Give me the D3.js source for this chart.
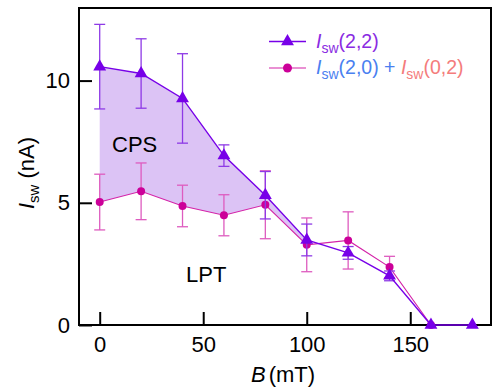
<!DOCTYPE html>
<html><head><meta charset="utf-8">
<script src="https://cdn.jsdelivr.net/npm/d3@7"></script>
<style>body{margin:0;background:#fff}svg{display:block;font-family:"Liberation Sans",Arial,Helvetica,sans-serif}</style>
</head><body>
<svg id="c" width="493" height="387"></svg>
<script>
// Data
const fieldB = [0, 20, 40, 60, 80, 100, 120, 140, 160, 180];
const isw22 = [10.57, 10.29, 9.27, 6.93, 5.31, 3.48, 2.95, 2.01, 0, 0];
const isw22Err = [1.73, 1.42, 1.83, 0.44, 0.97, 0.65, 0.26, 0.2, null, null];
const fieldBSum = [0, 20, 40, 60, 80, 100, 120, 140, 160];
const iswSum = [5.03, 5.47, 4.87, 4.49, 4.92, 3.28, 3.46, 2.37, 0];
const iswSumErr = [1.14, 1.16, 0.85, 0.84, 1.39, 1.1, 1.17, 0.44, null];
const fillCount = 6; // CPS region spans B = 0..100
const xTicks = [0, 50, 100, 150];
const yTicks = [0, 5, 10];

const C = {
  purple: "#7700e8", purpleErr: "#8e3ae6",
  magenta: "#cc0099", magentaErr: "#de5cbf", magentaLine: "#d422a8",
  fill: "#dcc3f5", blue: "#4a80f0", salmon: "#f47c7c", legPurple: "#8a2be2"
};
const FS = 22;

const svg = d3.select("#c");
const x = d3.scaleLinear().domain([-10, 189]).range([79, 491]);
const y = d3.scaleLinear().domain([0, 12.97]).range([325, 8]);

const s22 = fieldB.map((b, i) => ({b, v: isw22[i], e: isw22Err[i]}));
const sSum = fieldBSum.map((b, i) => ({b, v: iswSum[i], e: iswSumErr[i]}));

// fill between series
const fillData = d3.range(fillCount).map(i => ({b: fieldB[i], hi: isw22[i], lo: iswSum[i]}));
svg.append("path").datum(fillData)
  .attr("d", d3.area().x(d => x(d.b)).y0(d => y(d.lo)).y1(d => y(d.hi)))
  .attr("fill", C.fill);

// axes
const xa = svg.append("g").attr("transform", "translate(0,325)")
  .call(d3.axisBottom(x).tickValues(xTicks).tickSizeInner(-13).tickSizeOuter(0).tickPadding(11));
const ya = svg.append("g").attr("transform", "translate(79,0)")
  .call(d3.axisLeft(y).tickValues(yTicks).tickSizeInner(-13).tickSizeOuter(0).tickPadding(9));
[xa, ya].forEach(g => {
  g.select(".domain").remove();
  g.selectAll(".tick line").attr("stroke", "#000").attr("stroke-width", 2);
  g.selectAll(".tick text").attr("fill", "#000").attr("font-size", FS)
    .attr("font-family", '"Liberation Sans",Arial,sans-serif');
});

// frame
svg.append("rect").attr("x", 79).attr("y", 8).attr("width", 412).attr("height", 317)
  .attr("fill", "none").attr("stroke", "#000").attr("stroke-width", 2);

function errBars(data, color) {
  const g = svg.append("g").attr("stroke", color).attr("stroke-width", 1.3).attr("fill", "none");
  data.filter(d => d.e != null).forEach(d => {
    const cx = x(d.b), t = y(d.v + d.e), bt = y(d.v - d.e);
    g.append("line").attr("x1", cx).attr("x2", cx).attr("y1", t).attr("y2", bt);
    g.append("line").attr("x1", cx - 5.5).attr("x2", cx + 5.5).attr("y1", t).attr("y2", t);
    g.append("line").attr("x1", cx - 5.5).attr("x2", cx + 5.5).attr("y1", bt).attr("y2", bt);
  });
}
const line = d3.line().x(d => x(d.b)).y(d => y(d.v));

// sum series
errBars(sSum, C.magentaErr);
svg.append("path").datum(sSum).attr("d", line).attr("fill", "none")
  .attr("stroke", C.magentaLine).attr("stroke-width", 1.1);
svg.append("g").selectAll("circle").data(sSum).join("circle")
  .attr("cx", d => x(d.b)).attr("cy", d => y(d.v)).attr("r", 4).attr("fill", C.magenta);

// (2,2) series
errBars(s22, C.purpleErr);
svg.append("path").datum(s22).attr("d", line).attr("fill", "none")
  .attr("stroke", C.purple).attr("stroke-width", 1.4);
const tri = d3.symbol().type(d3.symbolTriangle).size(72);
svg.append("g").selectAll("path").data(s22).join("path")
  .attr("transform", d => `translate(${x(d.b)},${y(d.v)})`).attr("d", tri).attr("fill", C.purple);

// region labels
svg.append("text").attr("x", 112).attr("y", 152).attr("font-size", FS).text("CPS");
svg.append("text").attr("x", 186).attr("y", 282).attr("font-size", FS).text("LPT");

// axis titles
const xt = svg.append("text").attr("x", 251).attr("y", 382).attr("font-size", FS);
xt.append("tspan").attr("font-style", "italic").text("B");
xt.append("tspan").attr("dx", 3).text("(mT)");
const yt = svg.append("text").attr("transform", "translate(34,173) rotate(-90)")
  .attr("text-anchor", "middle").attr("font-size", FS);
yt.append("tspan").attr("font-style", "italic").text("I");
yt.append("tspan").attr("font-size", 15).attr("dy", 5).text("sw");
yt.append("tspan").attr("dy", -5).attr("dx", 6).text("(nA)");

// legend
const leg = svg.append("g");
leg.append("line").attr("x1", 269).attr("x2", 306).attr("y1", 41.5).attr("y2", 41.5)
  .attr("stroke", C.purple).attr("stroke-width", 1.4);
leg.append("path").attr("transform", "translate(287.5,41.5)").attr("d", tri).attr("fill", C.purple);
leg.append("line").attr("x1", 269).attr("x2", 306).attr("y1", 68).attr("y2", 68)
  .attr("stroke", C.magentaLine).attr("stroke-width", 1.1);
leg.append("circle").attr("cx", 287.5).attr("cy", 68).attr("r", 4.5).attr("fill", C.magenta);

function iswText(sel, args, color) {
  sel.append("tspan").attr("fill", color).attr("font-style", "italic").text("I");
  sel.append("tspan").attr("fill", color).attr("font-size", 14).attr("dy", 5).text("sw");
  sel.append("tspan").attr("fill", color).attr("dy", -5).text(args);
}
const l1 = leg.append("text").attr("x", 316).attr("y", 48).attr("font-size", 19.5);
iswText(l1, "(2,2)", C.legPurple);
const l2 = leg.append("text").attr("x", 316).attr("y", 74).attr("font-size", 19.5);
iswText(l2, "(2,0) + ", C.blue);
iswText(l2, "(0,2)", C.salmon);
</script>
</body></html>
